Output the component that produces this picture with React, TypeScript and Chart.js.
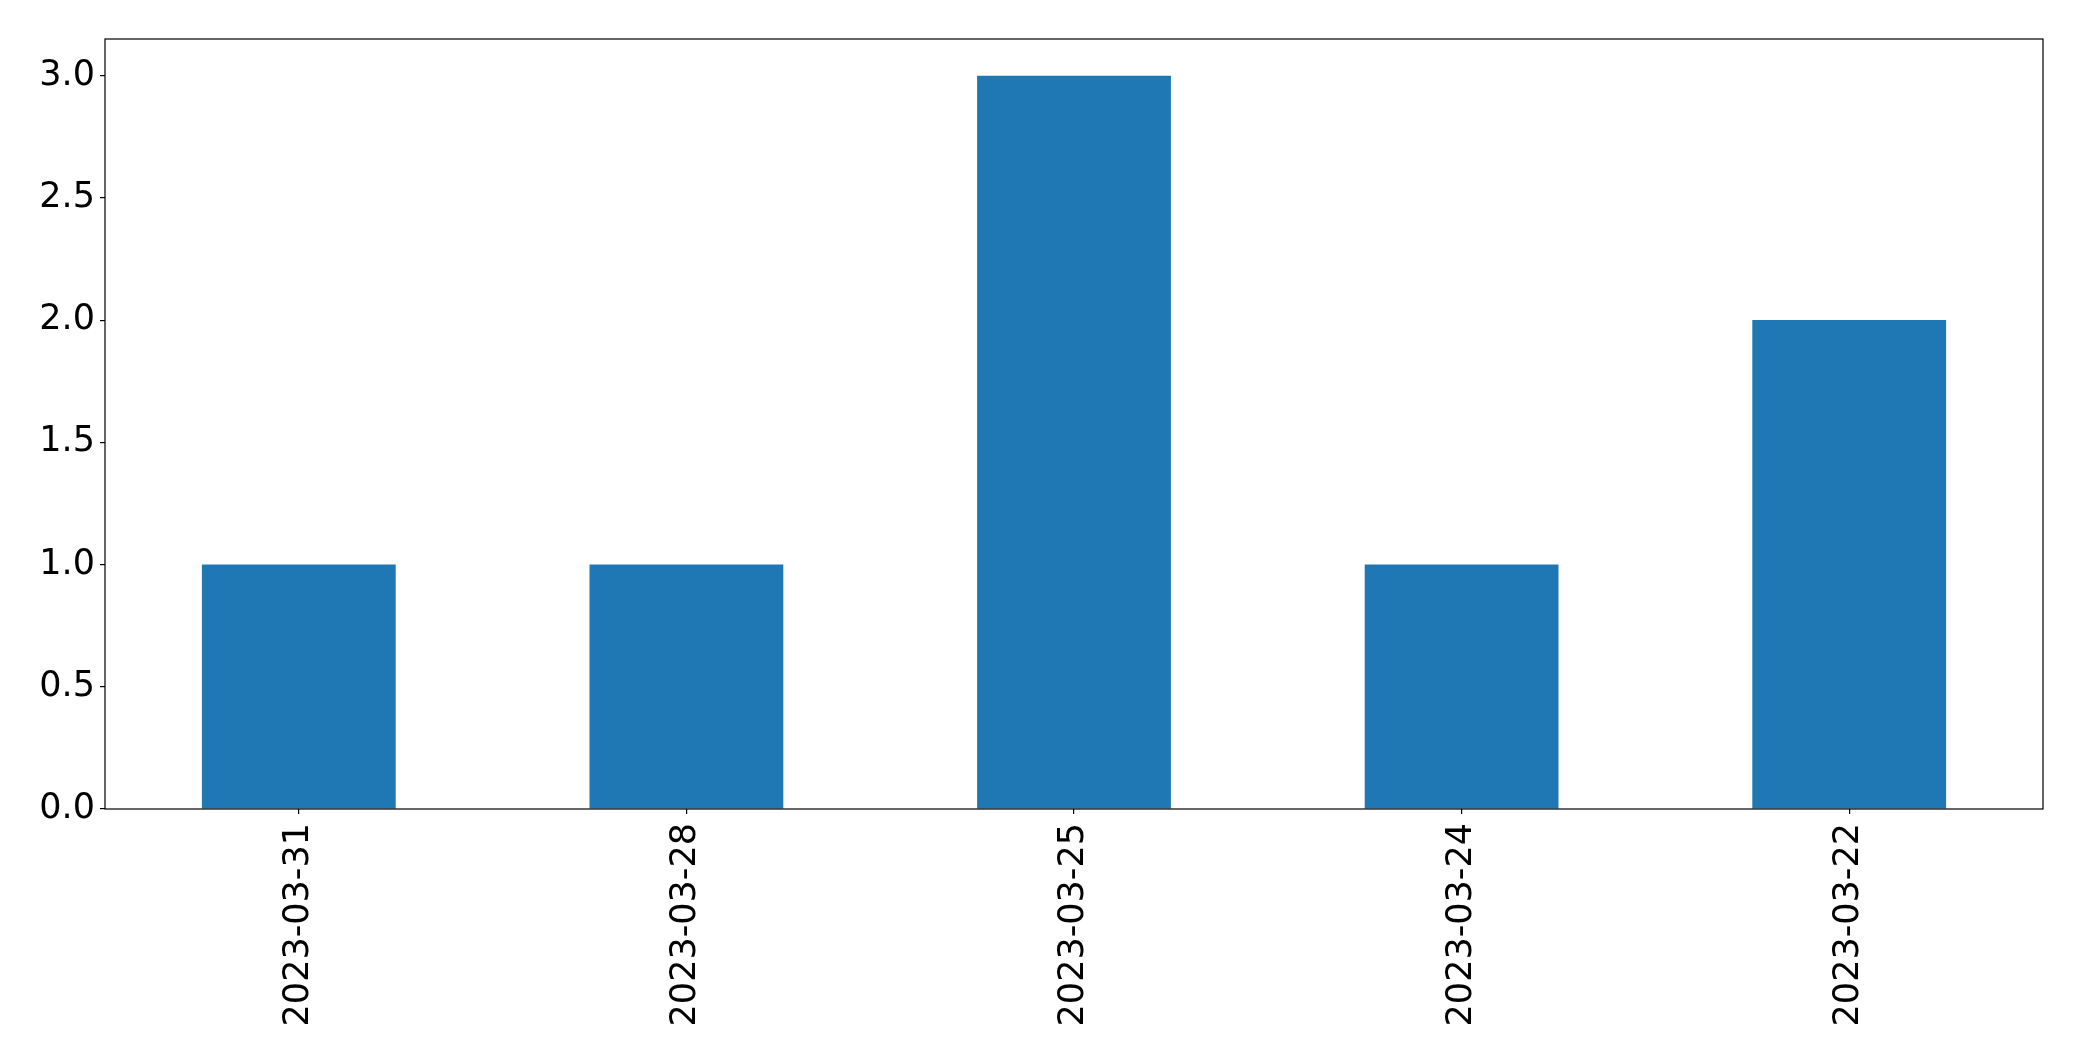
import React, { useEffect, useRef } from "react";
import { Chart, registerables } from "chart.js";

Chart.register(...registerables);

const categories: string[] = ["2023-03-31", "2023-03-28", "2023-03-25", "2023-03-24", "2023-03-22"];
const counts: number[] = [1, 1, 3, 1, 2];
const yTickValues: number[] = [0, 0.5, 1.0, 1.5, 2.0, 2.5, 3.0];
const yMax = 3.15;

const W = 2082;
const H = 1061;

const framePlugin = {
  id: "frame",
  afterDatasetsDraw(chart: any) {
    const { ctx, chartArea } = chart;
    ctx.save();
    ctx.strokeStyle = "#000";
    ctx.lineWidth = 1.2;
    ctx.strokeRect(chartArea.left, chartArea.top, chartArea.right - chartArea.left, chartArea.bottom - chartArea.top);
    ctx.restore();
  },
};

export default function App() {
  const ref = useRef<HTMLCanvasElement | null>(null);
  useEffect(() => {
    if (!ref.current) return;
    const font = { family: "'DejaVu Sans', sans-serif", size: 35 };
    const chart = new Chart(ref.current, {
      type: "bar",
      data: {
        labels: categories,
        datasets: [
          {
            data: counts,
            backgroundColor: "#1f77b4",
            borderWidth: 0,
            barPercentage: 0.5,
            categoryPercentage: 1.0,
          },
        ],
      },
      options: {
        responsive: false,
        animation: false,
        devicePixelRatio: 1,
        layout: { padding: { top: 39, right: 39, left: 0, bottom: 0 } },
        plugins: { legend: { display: false }, tooltip: { enabled: false } },
        scales: {
          x: {
            type: "category",
            offset: true,
            grid: { display: true, offset: false, drawOnChartArea: false, drawTicks: true, tickLength: 5, color: "#000", lineWidth: 1.2 },
            border: { display: false },
            ticks: { color: "#000", font, minRotation: 90, maxRotation: 90, padding: 9, autoSkip: false },
            afterFit(scale: any) {
              scale.height = H - 809;
            },
          },
          y: {
            type: "linear",
            min: 0,
            max: yMax,
            grid: { display: true, drawOnChartArea: false, drawTicks: true, tickLength: 5, color: "#000", lineWidth: 1.2 },
            border: { display: false },
            ticks: {
              color: "#000",
              font,
              padding: 5,
              includeBounds: false,
              callback: (v: any) => Number(v).toFixed(1),
            },
            afterBuildTicks(scale: any) {
              scale.ticks = yTickValues.map((v) => ({ value: v }));
            },
            afterFit(scale: any) {
              scale.width = 105;
            },
          },
        },
      },
      plugins: [framePlugin],
    });
    return () => chart.destroy();
  }, []);
  return (
    <div style={{ position: "fixed", left: 0, top: 0, width: W, height: H, background: "#fff" }}>
      <canvas ref={ref} width={W} height={H} style={{ width: W, height: H, display: "block" }} />
    </div>
  );
}
